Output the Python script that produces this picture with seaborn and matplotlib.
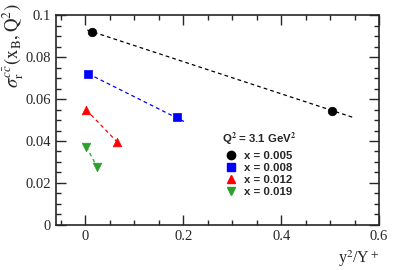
import numpy as np
import pandas as pd
import matplotlib
matplotlib.use("Agg")
import matplotlib.pyplot as plt
from matplotlib.lines import Line2D
from matplotlib.ticker import MultipleLocator, FuncFormatter
import seaborn as sns

# data
labels = ["x = 0.005", "x = 0.008", "x = 0.012", "x = 0.019"]
colors = ["black", "#0000ff", "#ff0000", "#2ca02c"]
markers = ["o", "s", "^", "v"]
pts_x = [[0.014, 0.504], [0.006, 0.188], [0.002, 0.065], [0.002, 0.024]]
pts_y = [[0.0920, 0.0545], [0.0720, 0.0512], [0.0548, 0.0395], [0.0372, 0.0276]]
fit_x = [[0.004, 0.550], [0.006, 0.204], [0.002, 0.065], [0.002, 0.024]]
fit_y = [[0.0928, 0.0510], [0.0720, 0.0490], [0.0548, 0.0395], [0.0372, 0.0276]]

sns.set_style("ticks")
plt.rcParams['font.family'] = ['Liberation Serif', 'DejaVu Serif']
plt.rcParams['mathtext.fontset'] = 'stix'

fig = plt.figure(figsize=(3.99, 2.70), dpi=100)
ax = fig.add_axes([0.1404, 0.1667, 0.8096, 0.7777])

for i in range(4):
    d = pd.DataFrame({"x": fit_x[i], "y": fit_y[i]})
    sns.lineplot(data=d, x="x", y="y", ax=ax, color=colors[i], lw=0.9)
    ax.lines[-1].set_dashes([3, 2.5])
    p = pd.DataFrame({"x": pts_x[i], "y": pts_y[i]})
    sns.scatterplot(data=p, x="x", y="y", ax=ax, color=colors[i],
                    marker=markers[i], s=38, edgecolor=colors[i], linewidth=0.5, zorder=5)

ax.set_xlim(-0.06, 0.6)
ax.set_ylim(0, 0.1)
ax.xaxis.set_major_locator(MultipleLocator(0.2))
ax.xaxis.set_minor_locator(MultipleLocator(0.05))
ax.yaxis.set_major_locator(MultipleLocator(0.02))
ax.yaxis.set_minor_locator(MultipleLocator(0.005))
ax.xaxis.set_major_formatter(FuncFormatter(lambda v, p: "%g" % round(v, 3)))
ax.yaxis.set_major_formatter(FuncFormatter(lambda v, p: "%g" % round(v, 3)))
ax.tick_params(which="both", direction="in", top=True, right=True, labelsize=10.5, width=1)
ax.tick_params(which="major", length=7)
ax.tick_params(which="minor", length=3.5)
for s in ax.spines.values():
    s.set_linewidth(1.2)

ax.set_xlabel(r"y$^2$/Y$^+$", fontsize=11.5)
ax.xaxis.set_label_coords(1.0, -0.11)
ax.xaxis.label.set_horizontalalignment("right")
ax.xaxis.label.set_verticalalignment("top")
ax.set_ylabel(r"$\sigma_{\rm r}^{c\bar{c}}({\rm x}_{\rm B},{\rm Q}^2)$", fontsize=13.5)
ax.yaxis.label.set_rotation_mode("default")
ax.yaxis.set_label_coords(-0.132, 1.055)
ax.yaxis.label.set_horizontalalignment("center")
ax.yaxis.label.set_verticalalignment("top")

handles = [Line2D([], [], ls="none", marker=markers[i], color=colors[i], markersize=6)
           for i in range(4)]
leg = ax.legend(handles, labels, title=r"Q$^{\mathbf{2}}$ = 3.1 GeV$^{\mathbf{2}}$", frameon=False,
                loc="upper left", bbox_to_anchor=(0.488, 0.485), handlelength=1.0,
                handletextpad=0.6, labelspacing=0.2, borderpad=0.2,
                prop={"family": "Liberation Sans", "weight": "bold", "size": 8.2},
                title_fontproperties={"family": "Liberation Sans", "weight": "bold", "size": 8.2})

fig.savefig("out.png", dpi=100)
